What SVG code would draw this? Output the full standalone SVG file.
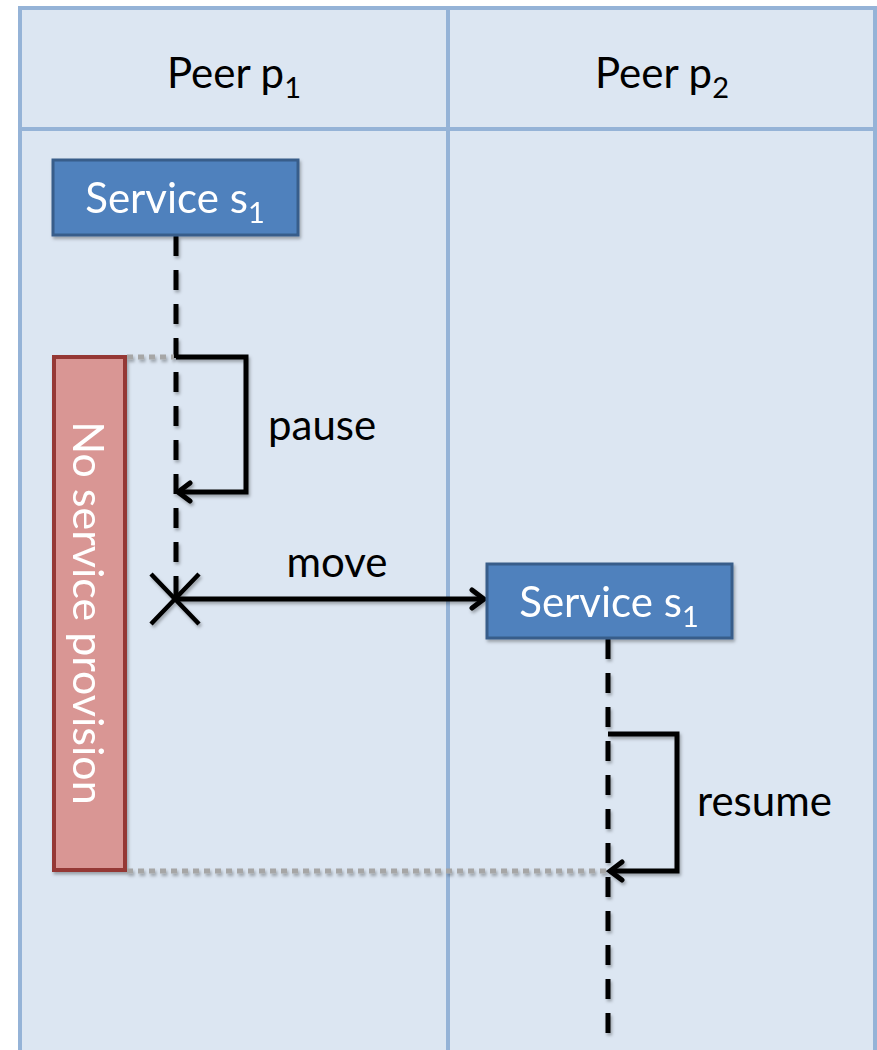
<svg xmlns="http://www.w3.org/2000/svg" width="877" height="1050" viewBox="0 0 877 1050">
  <defs>
    <filter id="shadow" x="-20%" y="-20%" width="140%" height="140%">
      <feDropShadow dx="1.5" dy="2.5" stdDeviation="1.5" flood-color="#000" flood-opacity="0.3"/>
    </filter>
    <marker id="open-arrow" viewBox="0 0 24 24" refX="20" refY="12" markerWidth="24" markerHeight="24" markerUnits="userSpaceOnUse" orient="auto">
      <path d="M 8 3 L 20 12 L 8 21" fill="none" stroke="#000" stroke-width="5" stroke-linecap="round" stroke-linejoin="miter"/>
    </marker>
    <style>
      .lane { fill: #dce6f2; stroke: #95b3d7; stroke-width: 4; }
      .grid { stroke: #95b3d7; stroke-width: 4; fill: none; }
      .label { font-family: Lato, "Open Sans", sans-serif; font-size: 42px; fill: #000; }
      .service rect { fill: #4f81bd; stroke: #385d8a; stroke-width: 3; }
      .service text { font-family: Lato, "Open Sans", sans-serif; font-size: 42px; fill: #fff; text-anchor: middle; }
      .lifeline { stroke: #000; stroke-width: 5; stroke-dasharray: 20 14; fill: none; }
      .msg { stroke: #000; stroke-width: 5; fill: none; stroke-linejoin: miter; }
      .dotted { stroke: #a6a6a6; stroke-width: 5; stroke-dasharray: 6 5; fill: none; }
      .sub { font-size: 29px; }
    </style>
  </defs>

  <!-- swimlane table -->
  <g id="lanes">
    <rect class="lane" x="20" y="8" width="857" height="1050"/>
    <line class="grid" x1="20" y1="129" x2="877" y2="129"/>
    <line class="grid" x1="448" y1="8" x2="448" y2="1050"/>
    <line class="grid" x1="875" y1="8" x2="875" y2="1050"/>
  </g>

  <g id="peer-p1">
    <text class="label" x="234" y="88" text-anchor="middle">Peer p<tspan class="sub" dy="10">1</tspan></text>
  </g>
  <g id="peer-p2">
    <text class="label" x="662" y="88" text-anchor="middle">Peer p<tspan class="sub" dy="10">2</tspan></text>
  </g>

  <!-- no-service interval -->
  <g id="no-service" filter="url(#shadow)">
    <rect x="54" y="357" width="71" height="513" fill="#d99694" stroke="#953735" stroke-width="4"/>
    <text transform="translate(89 613) rotate(90)" text-anchor="middle" dominant-baseline="central" font-family="Lato, 'Open Sans', sans-serif" font-size="43" fill="#fff">No service provision</text>
  </g>

  <!-- connectors -->
  <g id="connectors" filter="url(#shadow)">
    <line class="lifeline" x1="176" y1="236" x2="176" y2="598"/>
    <line class="lifeline" x1="608" y1="639" x2="608" y2="1040"/>
    <line class="dotted" x1="127" y1="357" x2="174" y2="357"/>
    <line class="dotted" x1="127" y1="871" x2="606" y2="871"/>
    <polyline class="msg" points="176,357 246,357 246,492 178,492" marker-end="url(#open-arrow)"/>
    <line class="msg" x1="176" y1="599" x2="484" y2="599" marker-end="url(#open-arrow)"/>
    <polyline class="msg" points="608,734 677,734 677,871 610,871" marker-end="url(#open-arrow)"/>
    <path d="M 151 574 L 199 624 M 199 574 L 151 624" stroke="#000" stroke-width="4.5" fill="none"/>
  </g>

  <g id="label-pause"><text class="label" x="268" y="440">pause</text></g>
  <g id="label-move"><text class="label" x="337" y="577" text-anchor="middle">move</text></g>
  <g id="label-resume"><text class="label" x="697" y="816">resume</text></g>

  <g id="service-s1-p1" class="service" filter="url(#shadow)">
    <rect x="53" y="160" width="245" height="75"/>
    <text x="175" y="213">Service s<tspan class="sub" dy="10">1</tspan></text>
  </g>
  <g id="service-s1-p2" class="service" filter="url(#shadow)">
    <rect x="487" y="564" width="245" height="74"/>
    <text x="609" y="617">Service s<tspan class="sub" dy="10">1</tspan></text>
  </g>
</svg>
